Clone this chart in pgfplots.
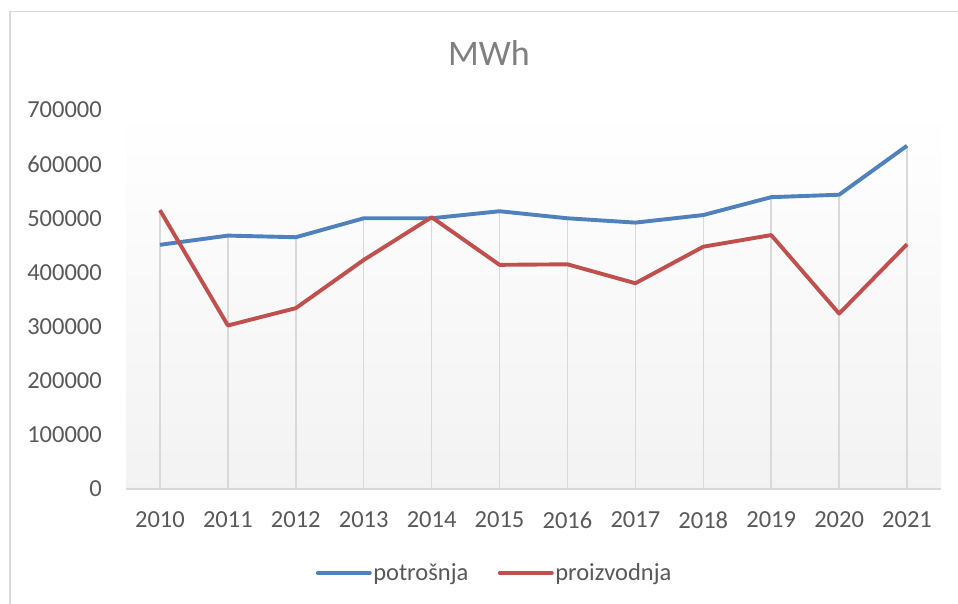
\documentclass[border=0pt]{standalone}
\usepackage{fontspec}
\setmainfont{Carlito}
\usepackage{pgfplots}
\pgfplotsset{compat=1.18}
\definecolor{cblue}{HTML}{4F81BD}
\definecolor{cred}{HTML}{C0504D}
\definecolor{cgrid}{HTML}{D9D9D9}
\definecolor{ctext}{HTML}{595959}
\definecolor{ctitle}{HTML}{7F7F7F}
\begin{document}
\begin{tikzpicture}
\clip (0,0) rectangle (958bp,604bp);
\fill[white] (0,0) rectangle (958bp,604bp);
\draw[cgrid, line width=1.5bp] (10bp,-20bp) -- (10bp,592.5bp) -- (990bp,592.5bp);
\begin{axis}[
  at={(126bp,115bp)}, anchor=south west, scale only axis,
  width=815bp, height=379bp,
  xmin=-0.5, xmax=11.5, ymin=0, ymax=700000,
  xtick={0,1,2,3,4,5,6,7,8,9,10,11},
  xticklabels={2010,2011,2012,2013,2014,2015,2016,2017,2018,2019,2020,2021},
  ytick={0,100000,200000,300000,400000,500000,600000,700000},
  scaled y ticks=false,
  /pgf/number format/assume math mode=true,
  yticklabel={\pgfmathprintnumber[fixed,1000 sep={}]{\tick}},
  axis lines*=left,
  y axis line style={draw=none},
  x axis line style={cgrid, line width=1.5bp},
  major tick length=0pt,
  ticklabel style={font=\fontsize{24.5bp}{29bp}\selectfont, text=ctext, inner sep=0pt},
  yticklabel style={anchor=east, xshift=-24bp},
  xticklabel style={anchor=north, yshift=-22.5bp},
  axis background/.style={shade, top color=white, bottom color=black!5},
  legend columns=2,
  legend style={at={(rel axis cs:0.452,-0.2216)}, anchor=center, draw=none, fill=none,
    font=\fontsize{24.5bp}{29bp}\selectfont, text=ctext,
    nodes={inner sep=1.5bp},
    /tikz/every even column/.append style={column sep=28bp}},
  legend cell align=left,
  legend image code/.code={\draw[#1, line width=3.9bp, line cap=round] (0bp,0bp) -- (52bp,0bp);},
]
\addplot[ycomb, cgrid, line width=1.5bp, no marks, forget plot] coordinates {
(0,515000) (1,468000) (2,465000) (3,500000) (4,502000) (5,513000)
(6,500000) (7,492000) (8,506000) (9,539000) (10,543500) (11,634000)};
\addplot[cblue, line width=3.9bp, line join=round, no marks] coordinates {
(0,451000) (1,468000) (2,465000) (3,500000) (4,500000) (5,513000)
(6,500000) (7,492000) (8,506000) (9,539000) (10,543500) (11,634000)};
\addlegendentry{potrošnja}
\addplot[cred, line width=3.9bp, line join=round, no marks] coordinates {
(0,515000) (1,302000) (2,334000) (3,423000) (4,502000) (5,414000)
(6,415000) (7,380000) (8,447500) (9,469000) (10,324000) (11,452000)};
\addlegendentry{proizvodnja}
\end{axis}
\node[anchor=base, text=ctitle, font=\fontsize{36bp}{43bp}\selectfont, inner sep=0pt] at (489bp,538.3bp) {MWh};
\end{tikzpicture}
\end{document}
